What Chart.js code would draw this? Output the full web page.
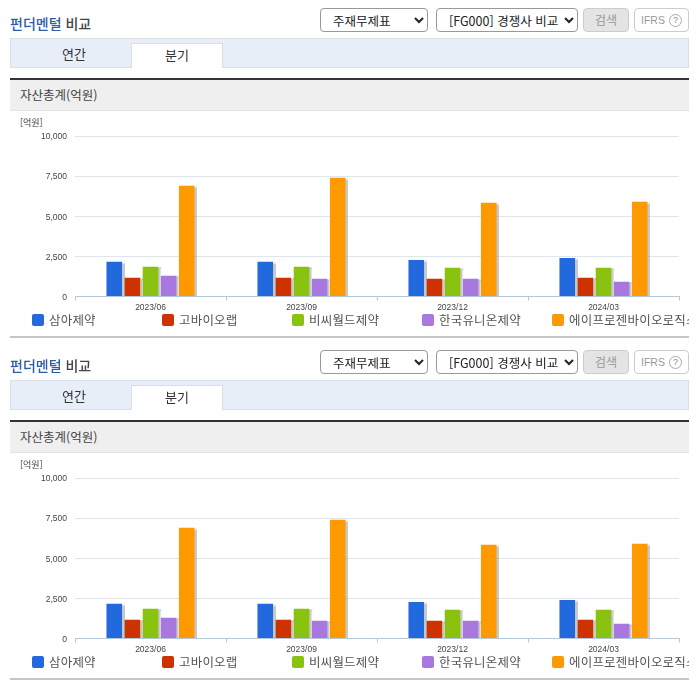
<!DOCTYPE html>
<html lang="ko">
<head>
<meta charset="utf-8">
<title>펀더멘털 비교</title>
<script src="https://cdn.jsdelivr.net/npm/chart.js@4"></script>
<style>
    * { box-sizing: border-box; }
    html, body { margin: 0; padding: 0; background: #fff; overflow: hidden; }
    body { width: 696px; height: 684px; position: relative; font-family: "Noto Sans CJK KR", sans-serif; color: #333; }
    .block { position: absolute; left: 0; width: 696px; height: 342px; }
    .block > * { position: absolute; }
    .title { left: 10px; top: 13px; font-size: 14px; line-height: 20px; font-weight: 500; color: #444; }
    .title b { font-weight: 500; color: #2f5ba8; }
    select { height: 24px; top: 8px; font-family: inherit; font-size: 12.5px; color: #222; background: #fff; border: 1px solid #999; border-radius: 4px; padding-left: 8px; }
    .btn { top: 8px; height: 24px; border-radius: 4px; font-size: 12px; line-height: 22px; text-align: center; color: #999; }
    .search { left: 583px; width: 46px; background: #e4e4e4; border: 1px solid #ccc; }
    .ifrs { left: 634px; width: 55px; background: #fff; border: 1px solid #ccc; font-family: "Liberation Sans", sans-serif; font-size: 10.5px; text-align: left; padding-left: 6px; }
    .ifrs span { position: absolute; left: 34px; top: 5px; width: 13px; height: 13px; border: 1px solid #aaa; border-radius: 50%; font-size: 9px; line-height: 11px; text-align: center; color: #888; }
    .tabs { left: 10px; top: 38px; width: 679px; height: 30px; background: #e8eef7; border: 1px solid #d8dfe9; }
    .tab { top: 43px; height: 25px; font-size: 13px; line-height: 22px; text-align: center; color: #333; }
    .tab.on { left: 131px; width: 92px; background: #fff; border: 1px solid #d8dfe9; border-bottom: 0; }
    .head { left: 10px; top: 78px; width: 679px; height: 33px; background: #efefef; border-top: 2px solid #333; border-bottom: 1px solid #e4e4e4; font-size: 12.5px; line-height: 30px; padding-left: 10px; color: #444; }
    .unit { left: 20px; top: 117px; font-size: 9px; line-height: 12px; color: #444; }
    canvas { left: 0; top: 112px; }
    .legend { left: 0; top: 310px; width: 689px; height: 20px; overflow: hidden; }
    .item { position: absolute; top: 0; white-space: nowrap; font-size: 12.5px; letter-spacing: 0.2px; line-height: 20px; color: #555; padding-left: 17px; }
    .item i { position: absolute; left: 0; top: 4px; width: 12px; height: 12px; border-radius: 2px; }
    .rule { left: 10px; top: 336px; width: 679px; height: 2px; background: #c6c6c6; }
</style>
</head>
<body>
<script>
// Chart data
const periods = ['2023/06', '2023/09', '2023/12', '2024/03'];
const companies = ['삼아제약', '고바이오랩', '비씨월드제약', '한국유니온제약', '에이프로젠바이오로직스'];
const colors = ['#2169dc', '#cc3300', '#89c20f', '#a878e0', '#ff9900'];
const samA = [2170, 2170, 2275, 2400];
const koBio = [1170, 1170, 1110, 1170];
const bcWorld = [1860, 1860, 1795, 1795];
const koreaUnion = [1300, 1110, 1110, 920];
const aprogen = [6900, 7400, 5845, 5910];
const seriesValues = [samA, koBio, bcWorld, koreaUnion, aprogen];
const yTicks = [0, 2500, 5000, 7500, 10000];

// Grey drop shadow behind the bars
const barShadow = {
    id: 'barShadow',
    beforeDatasetsDraw(chart) {
        const ctx = chart.ctx;
        ctx.save();
        ctx.shadowColor = 'rgba(120, 120, 120, 0.4)';
        ctx.shadowOffsetX = 2.5;
        ctx.shadowOffsetY = 0;
        ctx.shadowBlur = 1;
    },
    afterDatasetsDraw(chart) {
        chart.ctx.restore();
    }
};

function buildBlock(top) {
    const block = document.createElement('div');
    block.className = 'block';
    block.style.top = `${top}px`;
    block.innerHTML = `
        <div class="title"><b>펀더멘털</b> 비교</div>
        <select style="left:320px;width:108px"><option>주재무제표</option></select>
        <select style="left:436px;width:142px"><option>[FG000] 경쟁사 비교</option></select>
        <div class="btn search">검색</div>
        <div class="btn ifrs">IFRS<span>?</span></div>
        <div class="tabs"></div>
        <div class="tab" style="left:28px;width:92px">연간</div>
        <div class="tab on">분기</div>
        <div class="head">자산총계(억원)</div>
        <div class="unit">[억원]</div>
        <canvas width="696" height="204" style="width:696px;height:204px"></canvas>
        <div class="legend">${companies.map((name, i) => `
            <span class="item" style="left:${32 + i * 130}px"><i style="background:${colors[i]}"></i>${name}</span>
        `).join('')}</div>
        <div class="rule"></div>
    `;
    document.body.appendChild(block);

    new Chart(block.querySelector('canvas'), {
        type: 'bar',
        data: {
            labels: periods,
            datasets: companies.map((name, i) => ({
                label: name,
                data: seriesValues[i],
                backgroundColor: colors[i],
                categoryPercentage: 0.6,
                barPercentage: 0.86
            }))
        },
        options: {
            responsive: false,
            animation: false,
            devicePixelRatio: 1,
            layout: { padding: { top: 24, right: 17, left: 0, bottom: 0 } },
            plugins: { legend: { display: false }, tooltip: { enabled: false } },
            scales: {
                x: {
                    afterFit: (axis) => { axis.height = 19.5; },
                    border: { color: '#b8c6d8' },
                    grid: { drawOnChartArea: false, color: '#b8c6d8', tickLength: 4 },
                    ticks: { color: '#444', padding: 2, maxRotation: 0, font: { family: 'Liberation Sans', size: 8.5 } }
                },
                y: {
                    min: 0,
                    max: 10000,
                    afterFit: (axis) => { axis.width = 75; },
                    afterBuildTicks: (axis) => { axis.ticks = yTicks.map((value) => ({ value })); },
                    border: { display: false },
                    grid: { color: '#dfe5ec', tickLength: 0 },
                    ticks: {
                        color: '#444',
                        padding: 8,
                        labelOffset: 1,
                        font: { family: 'Liberation Sans', size: 8.5 },
                        callback: (value) => value.toLocaleString('en-US')
                    }
                }
            }
        },
        plugins: [barShadow]
    });
}

buildBlock(0);
buildBlock(342);
</script>
</body>
</html>
